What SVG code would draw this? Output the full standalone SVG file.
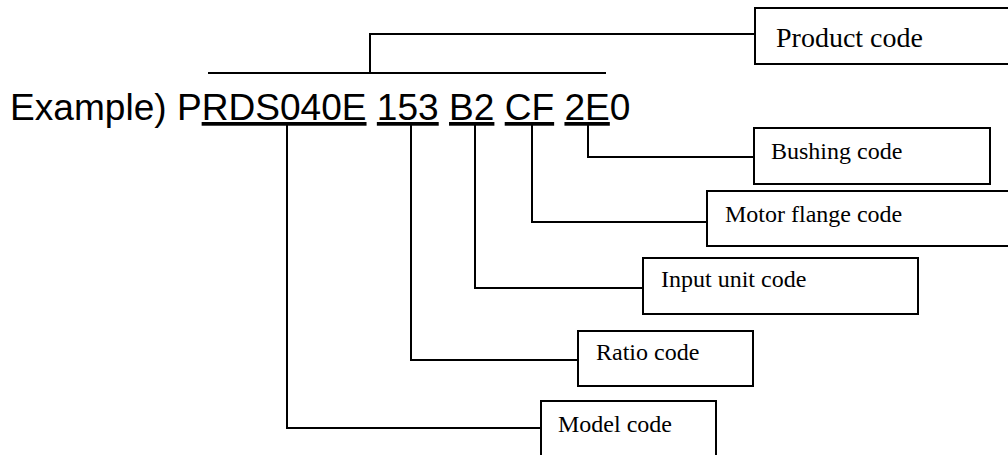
<svg xmlns="http://www.w3.org/2000/svg" width="1008" height="455" viewBox="0 0 1008 455">
<style>
.box{fill:#fff;stroke:#000;stroke-width:2}
.lbl{font-family:"Liberation Serif","Times New Roman",serif;font-size:24px;fill:#000}
.conn{fill:none;stroke:#000;stroke-width:2}
.code{font-family:"Liberation Sans",Arial,sans-serif;font-size:37.1px;fill:#000}
</style>
<rect width="1008" height="455" fill="#fff"/>
<g id="example">
<text class="code" x="10" y="120">Example) P<tspan text-decoration="underline">RDS040E</tspan> <tspan text-decoration="underline">153</tspan> <tspan text-decoration="underline">B2</tspan> <tspan text-decoration="underline">CF</tspan> <tspan text-decoration="underline">2E</tspan>0</text>
</g>
<g id="connectors">
<line class="conn" x1="208" y1="73" x2="606" y2="73"/>
<path class="conn" d="M370,73 V34 H755"/>
<path class="conn" d="M588,125 V157 H754"/>
<path class="conn" d="M532,125 V222 H707"/>
<path class="conn" d="M475,125 V288 H643"/>
<path class="conn" d="M411,125 V360 H578"/>
<path class="conn" d="M287,125 V428 H541"/>
</g>
<g id="product-code">
<rect class="box" x="755" y="8" width="270" height="56"/>
<text class="lbl" x="776" y="47" style="font-size:28px">Product code</text>
</g>
<g id="bushing-code">
<rect class="box" x="754" y="128" width="236" height="56"/>
<text class="lbl" x="771" y="159">Bushing code</text>
</g>
<g id="motor-flange-code">
<rect class="box" x="707" y="191" width="310" height="55"/>
<text class="lbl" x="725" y="222">Motor flange code</text>
</g>
<g id="input-unit-code">
<rect class="box" x="643" y="258" width="275" height="56"/>
<text class="lbl" x="661" y="287">Input unit code</text>
</g>
<g id="ratio-code">
<rect class="box" x="578" y="331" width="175" height="55"/>
<text class="lbl" x="596" y="360">Ratio code</text>
</g>
<g id="model-code">
<rect class="box" x="541" y="401" width="175" height="60"/>
<text class="lbl" x="558" y="432">Model code</text>
</g>
</svg>
